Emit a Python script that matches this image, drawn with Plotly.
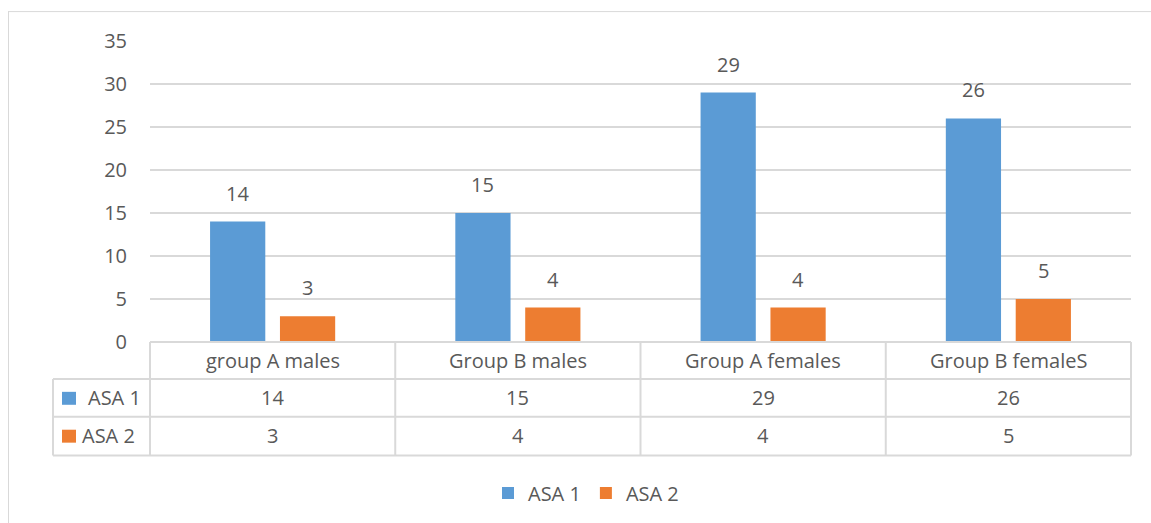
import plotly.graph_objects as go

categories = ["group A males", "Group B males", "Group A females", "Group B femaleS"]
series_names = ["ASA 1", "ASA 2"]
asa1 = [14, 15, 29, 26]
asa2 = [3, 4, 4, 5]
y_ticks = [0, 5, 10, 15, 20, 25, 30, 35]

colors = ["#5b9bd5", "#ed7d31"]
TXT = "#595959"
GRID = "#d9d9d9"
FONT = "Open Sans"
FS = 20

W, H = 1151, 523
L, R, T, B = 150, 1131, 41, 343  # plot area in pixels


def px(x):
    return (x - L) / (R - L)


def py(y):
    return (B - y) / (B - T)


fig = go.Figure()
for name, vals, col in zip(series_names, [asa1, asa2], colors):
    fig.add_trace(go.Bar(x=categories, y=vals, name=name, marker=dict(color=col, line=dict(width=0))))

shapes = []
annotations = []

# value labels above bars
for k, (vals) in enumerate([asa1, asa2]):
    shift = -35 if k == 0 else 35
    for c, v in zip(categories, vals):
        annotations.append(dict(x=c, y=v, xref="x", yref="y", text=str(v), showarrow=False,
                                xshift=shift, yshift=13, yanchor="bottom",
                                font=dict(family=FONT, size=FS, color=TXT)))

# data table lines
line = dict(color=GRID, width=2)
rows_px = [343, 380, 418, 457]
shapes.append(dict(type="line", xref="paper", yref="paper", x0=0, x1=1, y0=py(343), y1=py(343), line=line))
for ry in rows_px[1:]:
    shapes.append(dict(type="line", xref="paper", yref="paper", x0=px(53), x1=1, y0=py(ry), y1=py(ry), line=line))
shapes.append(dict(type="line", xref="paper", yref="paper", x0=px(53), x1=px(53), y0=py(380), y1=py(457), line=line))
for i in range(len(categories) + 1):
    xp = i / len(categories)
    shapes.append(dict(type="line", xref="paper", yref="paper", x0=xp, x1=xp, y0=py(343), y1=py(457), line=line))

# outer chart border (cropped)
border = dict(color=GRID, width=1)
shapes.append(dict(type="line", xref="paper", yref="paper", x0=px(8), x1=px(1160), y0=py(11.5), y1=py(11.5), line=border))
shapes.append(dict(type="line", xref="paper", yref="paper", x0=px(8.5), x1=px(8.5), y0=py(11), y1=py(530), line=border))

# table text
row_centers = [362, 399, 437]
for c in categories:
    annotations.append(dict(x=c, y=py(row_centers[0]), xref="x", yref="paper", text=c, showarrow=False,
                            yanchor="middle", font=dict(family=FONT, size=FS, color=TXT)))
for r, vals in enumerate([asa1, asa2]):
    for c, v in zip(categories, vals):
        annotations.append(dict(x=c, y=py(row_centers[r + 1]), xref="x", yref="paper", text=str(v),
                                showarrow=False, yanchor="middle", font=dict(family=FONT, size=FS, color=TXT)))

# row headers with colour keys
key_x = [(62, 76, 86), (62, 76, 80)]
for r, (name, col) in enumerate(zip(series_names, colors)):
    yc = row_centers[r + 1]
    shapes.append(dict(type="rect", xref="paper", yref="paper", x0=px(key_x[r][0]), x1=px(key_x[r][1]),
                       y0=py(yc - 6), y1=py(yc + 7), fillcolor=col, line=dict(width=0)))
    annotations.append(dict(x=px(key_x[r][2]), y=py(yc), xref="paper", yref="paper", text=name,
                            showarrow=False, xanchor="left", yanchor="middle",
                            font=dict(family=FONT, size=FS, color=TXT)))

fig.update_layout(
    width=W, height=H,
    margin=dict(l=L, r=W - R, t=T, b=H - B, pad=0),
    paper_bgcolor="white", plot_bgcolor="white",
    barmode="group", bargap=0.43, bargroupgap=0.21,
    showlegend=True,
    legend=dict(orientation="h", x=px(586), xanchor="center", y=py(493), yanchor="middle",
                font=dict(family=FONT, size=FS, color=TXT), itemclick=False, traceorder="normal"),
    shapes=shapes, annotations=annotations,
    font=dict(family=FONT, size=FS, color=TXT),
)
fig.update_xaxes(showticklabels=False, showgrid=False, zeroline=False, showline=False, ticks="")
fig.update_yaxes(range=[0, 35], tickvals=y_ticks, showgrid=True, gridcolor=GRID, gridwidth=1.5,
                 zeroline=False, showline=False, ticks="", ticklabelstandoff=22,
                 tickfont=dict(family=FONT, size=FS, color=TXT))

fig.write_html("out.html")
